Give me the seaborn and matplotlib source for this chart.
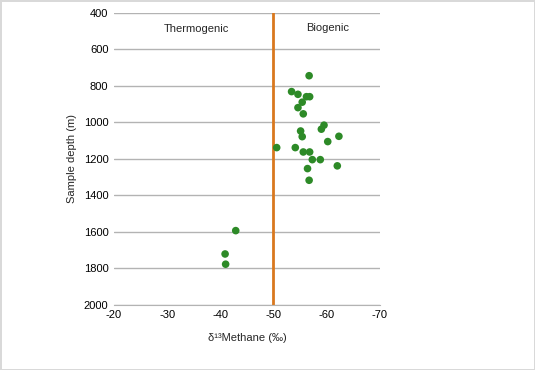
import pandas as pd
import numpy as np
import matplotlib
matplotlib.use('Agg')
import matplotlib.pyplot as plt
import seaborn as sns

# -----------------------------------------------
# Data
# -----------------------------------------------
methane_d13c = [-56.7, -53.4, -54.6, -56.2, -56.8, -55.4, -54.6, -55.6,
                -59.5, -59.0, -55.1, -55.4, -62.3, -60.2, -50.6, -54.1,
                -55.6, -56.8, -57.3, -58.8, -62.0, -56.4, -56.7,
                -42.9, -40.9, -41.0]
sample_depth = [744, 831, 846, 859, 859, 889, 919, 953,
                1015, 1037, 1047, 1078, 1076, 1105, 1138, 1138,
                1162, 1162, 1204, 1204, 1238, 1253, 1317,
                1593, 1721, 1777]
x_ticks = [-20, -30, -40, -50, -60, -70]
y_ticks = [400, 600, 800, 1000, 1200, 1400, 1600, 1800, 2000]
boundary = -50
region_labels = ['Thermogenic', 'Biogenic']

df = pd.DataFrame({'d13C': methane_d13c, 'depth': sample_depth})

# -----------------------------------------------
# Plot
# -----------------------------------------------
sns.set_style('white')
plt.rcParams['font.family'] = ['Liberation Sans', 'DejaVu Sans']
plt.rcParams['axes.unicode_minus'] = False

fig = plt.figure(figsize=(5.35, 3.7), dpi=100)
fig.patch.set_edgecolor('#d9d9d9')
fig.patch.set_linewidth(1)
ax = fig.add_axes([0.213, 0.176, 0.497, 0.789])

for yt in y_ticks:
    ax.axhline(yt, color='#b3b3b3', linewidth=1, zorder=1)

ax.axvline(boundary, color='#d9781e', linewidth=2, zorder=2)

sns.scatterplot(x='d13C', y='depth', data=df, color='#2d8a27', s=30,
                edgecolor='none', ax=ax, zorder=3)

ax.set_xlim(-20, -70)
ax.set_ylim(2000, 400)
ax.set_xticks(x_ticks)
ax.set_yticks(y_ticks)
ax.tick_params(axis='both', labelsize=8, colors='black', length=0, pad=4)
ax.tick_params(axis='x', length=3, color='#b3b3b3', direction='in')

for side in ['top', 'right', 'left']:
    ax.spines[side].set_visible(False)
ax.spines['bottom'].set_color('#b3b3b3')

ax.set_xlabel('δ¹³Methane (‰)', fontsize=8, labelpad=9)
ax.set_ylabel('Sample depth (m)', fontsize=8, labelpad=5)

ax.text(-35.6, 490, region_labels[0], fontsize=8, ha='center', va='center')
ax.text(-60.2, 485, region_labels[1], fontsize=8, ha='center', va='center')

plt.savefig('out.png', dpi=100)
